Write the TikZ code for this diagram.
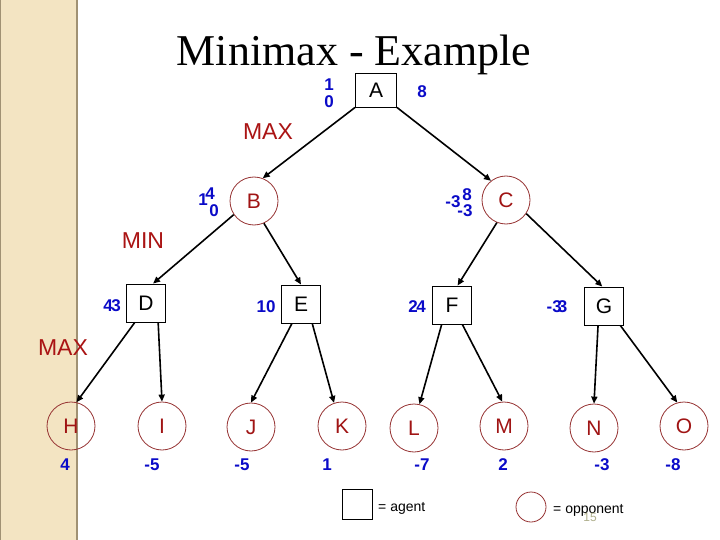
\documentclass[tikz,border=0pt]{standalone}
\usepackage{fontspec}
\setmainfont{Liberation Sans}
\newfontfamily\titlefont{Liberation Serif}
\usetikzlibrary{arrows.meta}
\definecolor{lblred}{RGB}{170,20,20}
\definecolor{circred}{RGB}{150,50,50}
\definecolor{letred}{RGB}{160,20,20}
\definecolor{numblue}{RGB}{10,10,200}
\definecolor{sidebeige}{RGB}{243,228,194}
\definecolor{sideedge}{RGB}{160,145,115}
\definecolor{pagegray}{RGB}{175,175,140}
\tikzset{
  agentbox/.style={draw=black, line width=0.9pt, minimum width=39pt, minimum height=38pt, inner sep=0pt, font=\fontsize{21}{21}\selectfont},
  oppcirc/.style={circle, draw=circred, line width=0.8pt, minimum size=48pt, inner sep=0pt, text=letred, font=\fontsize{21}{21}\selectfont},
  val/.style={text=numblue, inner sep=0pt, font=\fontsize{17}{17}\selectfont\bfseries},
  levellbl/.style={text=lblred, inner sep=0pt, font=\fontsize{23}{23}\selectfont},
  edge/.style={line width=1.6pt, -{Triangle[length=7pt,width=6pt]}},
  legtext/.style={inner sep=0pt, anchor=west, font=\fontsize{14}{14}\selectfont}
}
\begin{document}
\begin{tikzpicture}[x=1pt,y=-1pt]
\useasboundingbox (0,0) rectangle (720,540);
\fill[white] (0,0) rectangle (720,540);
\draw[fill=sidebeige, draw=sideedge, line width=1.2pt] (0.6,-1) rectangle (77,541);

\node[anchor=base, inner sep=0pt, font=\titlefont\fontsize{44}{44}\selectfont] (title) at (354,66) {Minimax - Example};

% nodes
\node[agentbox, minimum width=41pt, minimum height=34pt] (A) at (376,90) {A};
\node[oppcirc] (B) at (254,201) {B};
\node[oppcirc] (C) at (506,200) {C};
\node[agentbox] (D) at (146,303) {D};
\node[agentbox] (E) at (301,304) {E};
\node[agentbox] (F) at (452,305) {F};
\node[agentbox] (G) at (604,306) {G};
\node[oppcirc] (H) at (71,426) {H};
\node[oppcirc] (I) at (162,426) {I};
\node[oppcirc] (J) at (251,427) {J};
\node[oppcirc] (K) at (342,426) {K};
\node[oppcirc] (L) at (414,428) {L};
\node[oppcirc] (M) at (504,426) {M};
\node[oppcirc] (N) at (594,428) {N};
\node[oppcirc] (O) at (684,426) {O};

% level labels
\node[levellbl] (max1) at (268,132) {MAX};
\node[levellbl] (min1) at (143,241) {MIN};
\node[levellbl] (max2) at (63,348) {MAX};

% values
\node[val] (a1) at (329,85) {1};
\node[val] (a0) at (329,102) {0};
\node[val] (a8) at (422,92) {8};
\node[val] (b1) at (203,200) {1};
\node[val] (b4) at (210,194) {4};
\node[val] (b0) at (214,211) {0};
\node[val] (c3a) at (453,202) {-3};
\node[val] (c8) at (467,195) {8};
\node[val] (c3b) at (465,211) {-3};
\node[val] (dv) at (112,306) {4\kern-1.5pt 3};
\node[val] (ev) at (266,307) {10};
\node[val] (fv) at (417,307) {2\kern-1.5pt 4};
\node[val] (gv) at (557,307) {-3\kern-4pt 3};
\node[val] (hv) at (65,465) {4};
\node[val] (iv) at (152,465) {-5};
\node[val] (jv) at (242,465) {-5};
\node[val] (kv) at (327,465) {1};
\node[val] (lv) at (422,465) {-7};
\node[val] (mv) at (503,465) {2};
\node[val] (nv) at (602,465) {-3};
\node[val] (ov) at (673,465) {-8};

% edges
\draw[edge] (A.south west) -- (B.69);
\draw[edge] (A.south east) -- (C.128);
\draw[edge] (B.214) -- (D.70);
\draw[edge] (B.294) -- (E.north);
\draw[edge] (C.248) -- (F.74);
\draw[edge] (C.326) -- (G.95);
\draw[edge] (D.240) -- (H.77);
\draw[edge] (D.302) -- (I.north);
\draw[edge] (E.245) -- (J.north);
\draw[edge] (E.300) -- (K.109);
\draw[edge] (F.242) -- (L.77);
\draw[edge] (F.298) -- (M.94);
\draw[edge] (G.253) -- (N.north);
\draw[edge] (G.310) -- (O.106);

% legend
\node[draw=black, line width=0.9pt, minimum size=30pt, inner sep=0pt] (legA) at (357,504) {};
\node[legtext] (legAt) at (378,508) {= agent};
\node[circle, draw=circred, line width=0.8pt, minimum size=30pt, inner sep=0pt] (legO) at (531,507) {};
\node[legtext] (legOt) at (553,510) {= opponent};
\node[inner sep=0pt, text=pagegray, font=\fontsize{12}{12}\selectfont] (pnum) at (590,517) {15};
\end{tikzpicture}
\end{document}
